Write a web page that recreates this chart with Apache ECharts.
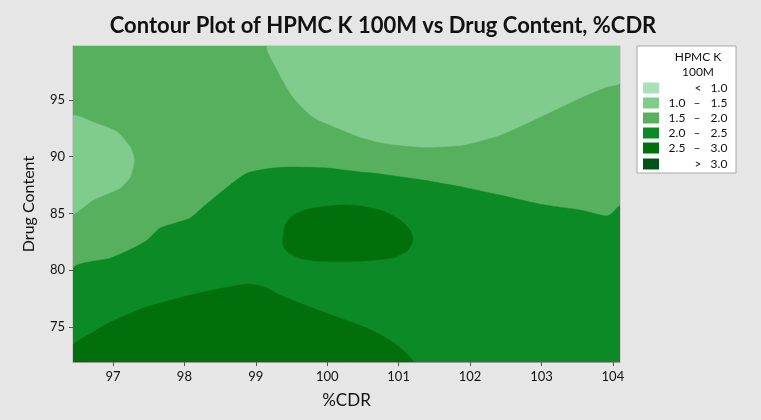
<!DOCTYPE html>
<html><head><meta charset="utf-8">
<script src="https://cdn.jsdelivr.net/npm/echarts@6/dist/echarts.min.js"></script>
<style>html,body{margin:0;padding:0;background:#e6e6e6}#c{width:761px;height:420px}</style>
</head><body><div id="c"></div>
<script>
// ---- data (x = %CDR, y = Drug Content) ----
const xTicks = [97, 98, 99, 100, 101, 102, 103, 104];
const yTicks = [75, 80, 85, 90, 95];
const xRange = [96.44, 104.1];
const yRange = [71.91, 99.76];

const legendLabels = [['<', '', '1.0'], ['1.0', '–', '1.5'], ['1.5', '–', '2.0'], ['2.0', '–', '2.5'], ['2.5', '–', '3.0'], ['>', '', '3.0']];
const levelColors = ['#a8e1b7', '#80cc8d', '#56b05d', '#0b8a25', '#006f0c', '#00521a'];

// contour regions (boundary points)
const band15to20 = [[96.44,71.91],[104.1,71.91],[104.1,99.76],[96.44,99.76]];
const band10to15TopRight = [[99.17,99.76],[99.30,97.65],[99.52,95.26],[99.80,93.50],[100.18,92.44],[100.46,91.74],[100.78,91.21],[101.34,90.85],[101.90,91.03],[102.42,91.91],[102.98,93.50],[103.54,95.18],[103.91,96.15],[104.1,96.50],[104.1,99.76]];
const band10to15Left = [[96.44,93.59],[96.72,93.06],[97.06,92.18],[97.24,90.85],[97.30,89.71],[97.24,88.21],[97.10,87.24],[96.72,86.18],[96.44,85.03]];
const band20to25 = [[96.44,80.18],[96.96,81.06],[97.28,81.94],[97.48,82.65],[97.66,83.71],[98.08,84.59],[98.26,85.56],[98.60,87.32],[98.88,88.56],[99.24,89.00],[99.52,89.09],[100.0,89.00],[100.46,88.65],[100.64,88.56],[101.34,87.94],[101.90,87.32],[102.42,86.62],[102.98,85.82],[103.54,85.30],[103.91,84.77],[103.99,85.03],[104.1,85.65],[104.1,71.91],[96.44,71.91]];
const band25to30Island = [[99.38,82.83],[99.41,83.97],[99.51,84.77],[99.69,85.30],[99.90,85.56],[100.22,85.74],[100.46,85.65],[100.78,85.21],[101.02,84.41],[101.16,83.53],[101.20,82.65],[101.13,81.77],[100.95,81.15],[100.78,80.97],[100.46,80.80],[99.90,80.80],[99.62,81.06],[99.45,81.59],[99.38,82.21]];
const band25to30Bottom = [[96.44,73.39],[96.72,74.53],[96.96,75.41],[97.42,76.65],[98.08,77.80],[98.60,78.50],[98.88,78.77],[99.02,78.68],[99.16,78.41],[99.34,77.80],[99.80,76.65],[100.18,75.77],[100.56,74.88],[100.88,73.83],[101.06,72.94],[101.20,71.91],[96.44,71.91]];

const regions = [
  {pts: band15to20, color: levelColors[2]},
  {pts: band10to15TopRight, color: levelColors[1]},
  {pts: band10to15Left, color: levelColors[1]},
  {pts: band20to25, color: levelColors[3]},
  {pts: band25to30Island, color: levelColors[4]},
  {pts: band25to30Bottom, color: levelColors[4]}
];

const chart = echarts.init(document.getElementById('c'));
const FONT = 'Lato';

const series = regions.map(r => ({
  type: 'custom',
  coordinateSystem: 'cartesian2d',
  clip: true,
  silent: true,
  data: r.pts,
  encode: {x: 0, y: 1},
  renderItem: function (params, api) {
    if (params.dataIndex !== 0) return null;
    const points = r.pts.map(p => api.coord(p));
    return {type: 'polygon', shape: {points: points, smooth: 0.2}, style: {fill: r.color, stroke: r.color, lineWidth: 0.5}};
  }
}));

// legend as graphic
const lgX = 637, lgY = 46;
const graphics = [
  {type: 'rect', shape: {x: lgX, y: lgY, width: 99, height: 127}, style: {fill: '#ffffff', stroke: '#a8a8a8', lineWidth: 1}},
  {type: 'text', style: {x: 698, y: 57, text: 'HPMC K', font: '12px ' + FONT, fill: '#111', align: 'center', verticalAlign: 'middle'}},
  {type: 'text', style: {x: 698, y: 72, text: '100M', font: '12px ' + FONT, fill: '#111', align: 'center', verticalAlign: 'middle'}}
];
const rowY = [88, 103, 118, 133, 148, 164];
legendLabels.forEach((lab, i) => {
  graphics.push({type: 'rect', shape: {x: 643, y: rowY[i] - 5.5, width: 16, height: 11}, style: {fill: levelColors[i]}});
  if (lab[1] === '') {
    graphics.push({type: 'text', style: {x: 698, y: rowY[i], text: lab[0], font: '12px ' + FONT, fill: '#111', align: 'center', verticalAlign: 'middle'}});
  } else {
    graphics.push({type: 'text', style: {x: 677, y: rowY[i], text: lab[0], font: '12px ' + FONT, fill: '#111', align: 'center', verticalAlign: 'middle'}});
    graphics.push({type: 'text', style: {x: 697, y: rowY[i], text: lab[1], font: '12px ' + FONT, fill: '#111', align: 'center', verticalAlign: 'middle'}});
  }
  graphics.push({type: 'text', style: {x: 719, y: rowY[i], text: lab[2], font: '12px ' + FONT, fill: '#111', align: 'center', verticalAlign: 'middle'}});
});

chart.setOption({
  backgroundColor: '#e6e6e6',
  animation: false,
  title: {
    text: 'Contour Plot of HPMC K 100M vs Drug Content, %CDR',
    left: 378, top: 10, textAlign: 'center',
    textStyle: {fontFamily: FONT, fontSize: 22, fontWeight: 'bold', color: '#111'}
  },
  grid: {left: 73, right: 141, top: 46, bottom: 58, show: true, borderColor: '#b5b5b5', borderWidth: 1, backgroundColor: 'transparent'},
  xAxis: {
    type: 'value', min: xRange[0], max: xRange[1],
    name: '%CDR', nameLocation: 'middle', nameGap: 30,
    nameTextStyle: {fontFamily: FONT, fontSize: 17, color: '#111'},
    axisLine: {show: true, lineStyle: {color: '#9a9a9a'}},
    axisTick: {show: true, length: 4, lineStyle: {color: '#555'}, customValues: xTicks},
    axisLabel: {fontFamily: FONT, fontSize: 13, color: '#111', margin: 8, customValues: xTicks},
    splitLine: {show: false}
  },
  yAxis: {
    type: 'value', min: yRange[0], max: yRange[1],
    name: 'Drug Content', nameLocation: 'middle', nameGap: 36, nameRotate: 90,
    nameTextStyle: {fontFamily: FONT, fontSize: 16, color: '#111'},
    axisLine: {show: true, lineStyle: {color: '#9a9a9a'}},
    axisTick: {show: true, length: 4, lineStyle: {color: '#555'}, customValues: yTicks},
    axisLabel: {fontFamily: FONT, fontSize: 13, color: '#111', margin: 8, customValues: yTicks},
    splitLine: {show: false}
  },
  series: series,
  graphic: graphics
});
</script></body></html>
